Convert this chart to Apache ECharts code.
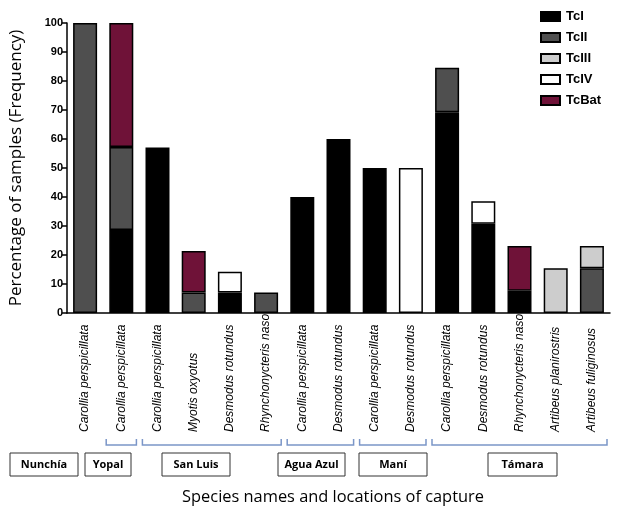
<!DOCTYPE html>
<html><head><meta charset="utf-8">
<script src="https://cdn.jsdelivr.net/npm/echarts@6/dist/echarts.min.js"></script>
<style>html,body{margin:0;padding:0;background:#fff}#c{width:623px;height:508px}</style>
</head><body><div id="c"></div>
<script>
const categories = ['Carollia perspicillata','Carollia perspicillata','Carollia perspicillata','Myotis oxyotus','Desmodus rotundus','Rhynchonycteris naso','Carollia perspicillata','Desmodus rotundus','Carollia perspicillata','Desmodus rotundus','Carollia perspicillata','Desmodus rotundus','Rhynchonycteris naso','Artibeus planirostris','Artibeus fuliginosus'];
const tcI   = [null, 28.6, 57.1, null, 7.1, null, 40, 60, 50, null, 69.2, 30.8, 7.7, null, null];
const tcII  = [100, 28.6, null, 7.1, null, 7.1, null, null, null, null, 15.4, null, null, null, 15.4];
const tcIII = [null, null, null, null, null, null, null, null, null, null, null, null, null, 15.4, 7.7];
const tcIV  = [null, null, null, null, 7.1, null, null, null, null, 50, null, 7.7, null, null, null];
const tcBat = [null, 42.8, null, 14.3, null, null, null, null, null, null, null, null, 15.4, null, null];
const yTicks = [0,10,20,30,40,50,60,70,80,90,100];
const locations = ['Nunchía','Yopal','San Luis','Agua Azul','Maní','Támara'];
const groupStart = [0,1,2,6,8,10];
const groupEnd   = [0,1,5,7,9,14];

// layout for the location boxes (left x, width)
const boxLeft  = [10, 85, 162, 278, 359, 488];
const boxWidth = [68, 46, 68, 67, 68, 69];

const colors = {TcI:'#000000', TcII:'#4f4f4f', TcIII:'#cdcdcd', TcIV:'#ffffff', TcBat:'#6f1238'};
const chart = echarts.init(document.getElementById('c'));
function ser(name, data){
  return {name, type:'bar', stack:'s', data, barWidth:24,
    itemStyle:{color:colors[name], borderColor:'#000', borderWidth:1.5}};
}
chart.setOption({
  animation:false,
  grid:{left:56, right:13, top:23, bottom:195},
  legend:{orient:'vertical', left:535, top:5, itemWidth:19, itemHeight:9, itemGap:8,
    icon:'rect',
    textStyle:{fontFamily:'Liberation Sans', fontWeight:'bold', fontSize:13, color:'#000', padding:[0,0,0,1]},
    data:['TcI','TcII','TcIII','TcIV','TcBat']},
  xAxis:{type:'category', data:categories,
    axisLine:{lineStyle:{color:'#000', width:1.5}},
    axisTick:{alignWithLabel:true, length:5, lineStyle:{color:'#000', width:1.5}},
    axisLabel:{rotate:90, interval:0, margin:119, align:'left', fontFamily:'Liberation Sans', fontStyle:'italic', fontSize:12, color:'#000'}},
  yAxis:{type:'value', min:0, max:100, interval:10,
    name:'Percentage of samples (Frequency)', nameLocation:'middle', nameGap:42,
    nameTextStyle:{fontFamily:'Open Sans', fontSize:17, color:'#000'},
    splitLine:{show:false},
    axisLine:{show:true, lineStyle:{color:'#000', width:1.5}},
    axisTick:{show:true, length:5, lineStyle:{color:'#000', width:1.5}},
    axisLabel:{fontFamily:'Liberation Sans', fontWeight:'bold', fontSize:11, color:'#000', margin:4,
      formatter:v=>yTicks.includes(v)?String(v):''}},
  series:[ser('TcI',tcI), ser('TcII',tcII), ser('TcIII',tcIII), ser('TcIV',tcIV), ser('TcBat',tcBat)]
});

const gfx = [];
const step = chart.convertToPixel({xAxisIndex:0}, 1) - chart.convertToPixel({xAxisIndex:0}, 0);
const by = 445;
for (let g=0; g<locations.length; g++){
  if (g>0){
    const x0 = chart.convertToPixel({xAxisIndex:0}, groupStart[g]) - step/2 + 3;
    const x1 = chart.convertToPixel({xAxisIndex:0}, groupEnd[g]) + step/2 - 3;
    gfx.push({type:'polyline', shape:{points:[[x0,by-6],[x0,by],[x1,by],[x1,by-6]]},
      style:{stroke:'#7b96c8', lineWidth:1.5, fill:null}});
  }
  gfx.push({type:'rect', shape:{x:boxLeft[g], y:453, width:boxWidth[g], height:23},
    style:{stroke:'#333', lineWidth:1, fill:'#fff'}});
  gfx.push({type:'text', x:boxLeft[g]+boxWidth[g]/2, y:464.5,
    style:{text:locations[g], fontFamily:'Open Sans', fontWeight:'bold', fontSize:11, fill:'#000', align:'center', verticalAlign:'middle'}});
}
gfx.push({type:'text', x:333, y:497, style:{text:'Species names and locations of capture', fontFamily:'Open Sans', fontSize:16.4, fill:'#000', align:'center', verticalAlign:'middle'}});
chart.setOption({graphic:gfx});
</script></body></html>
